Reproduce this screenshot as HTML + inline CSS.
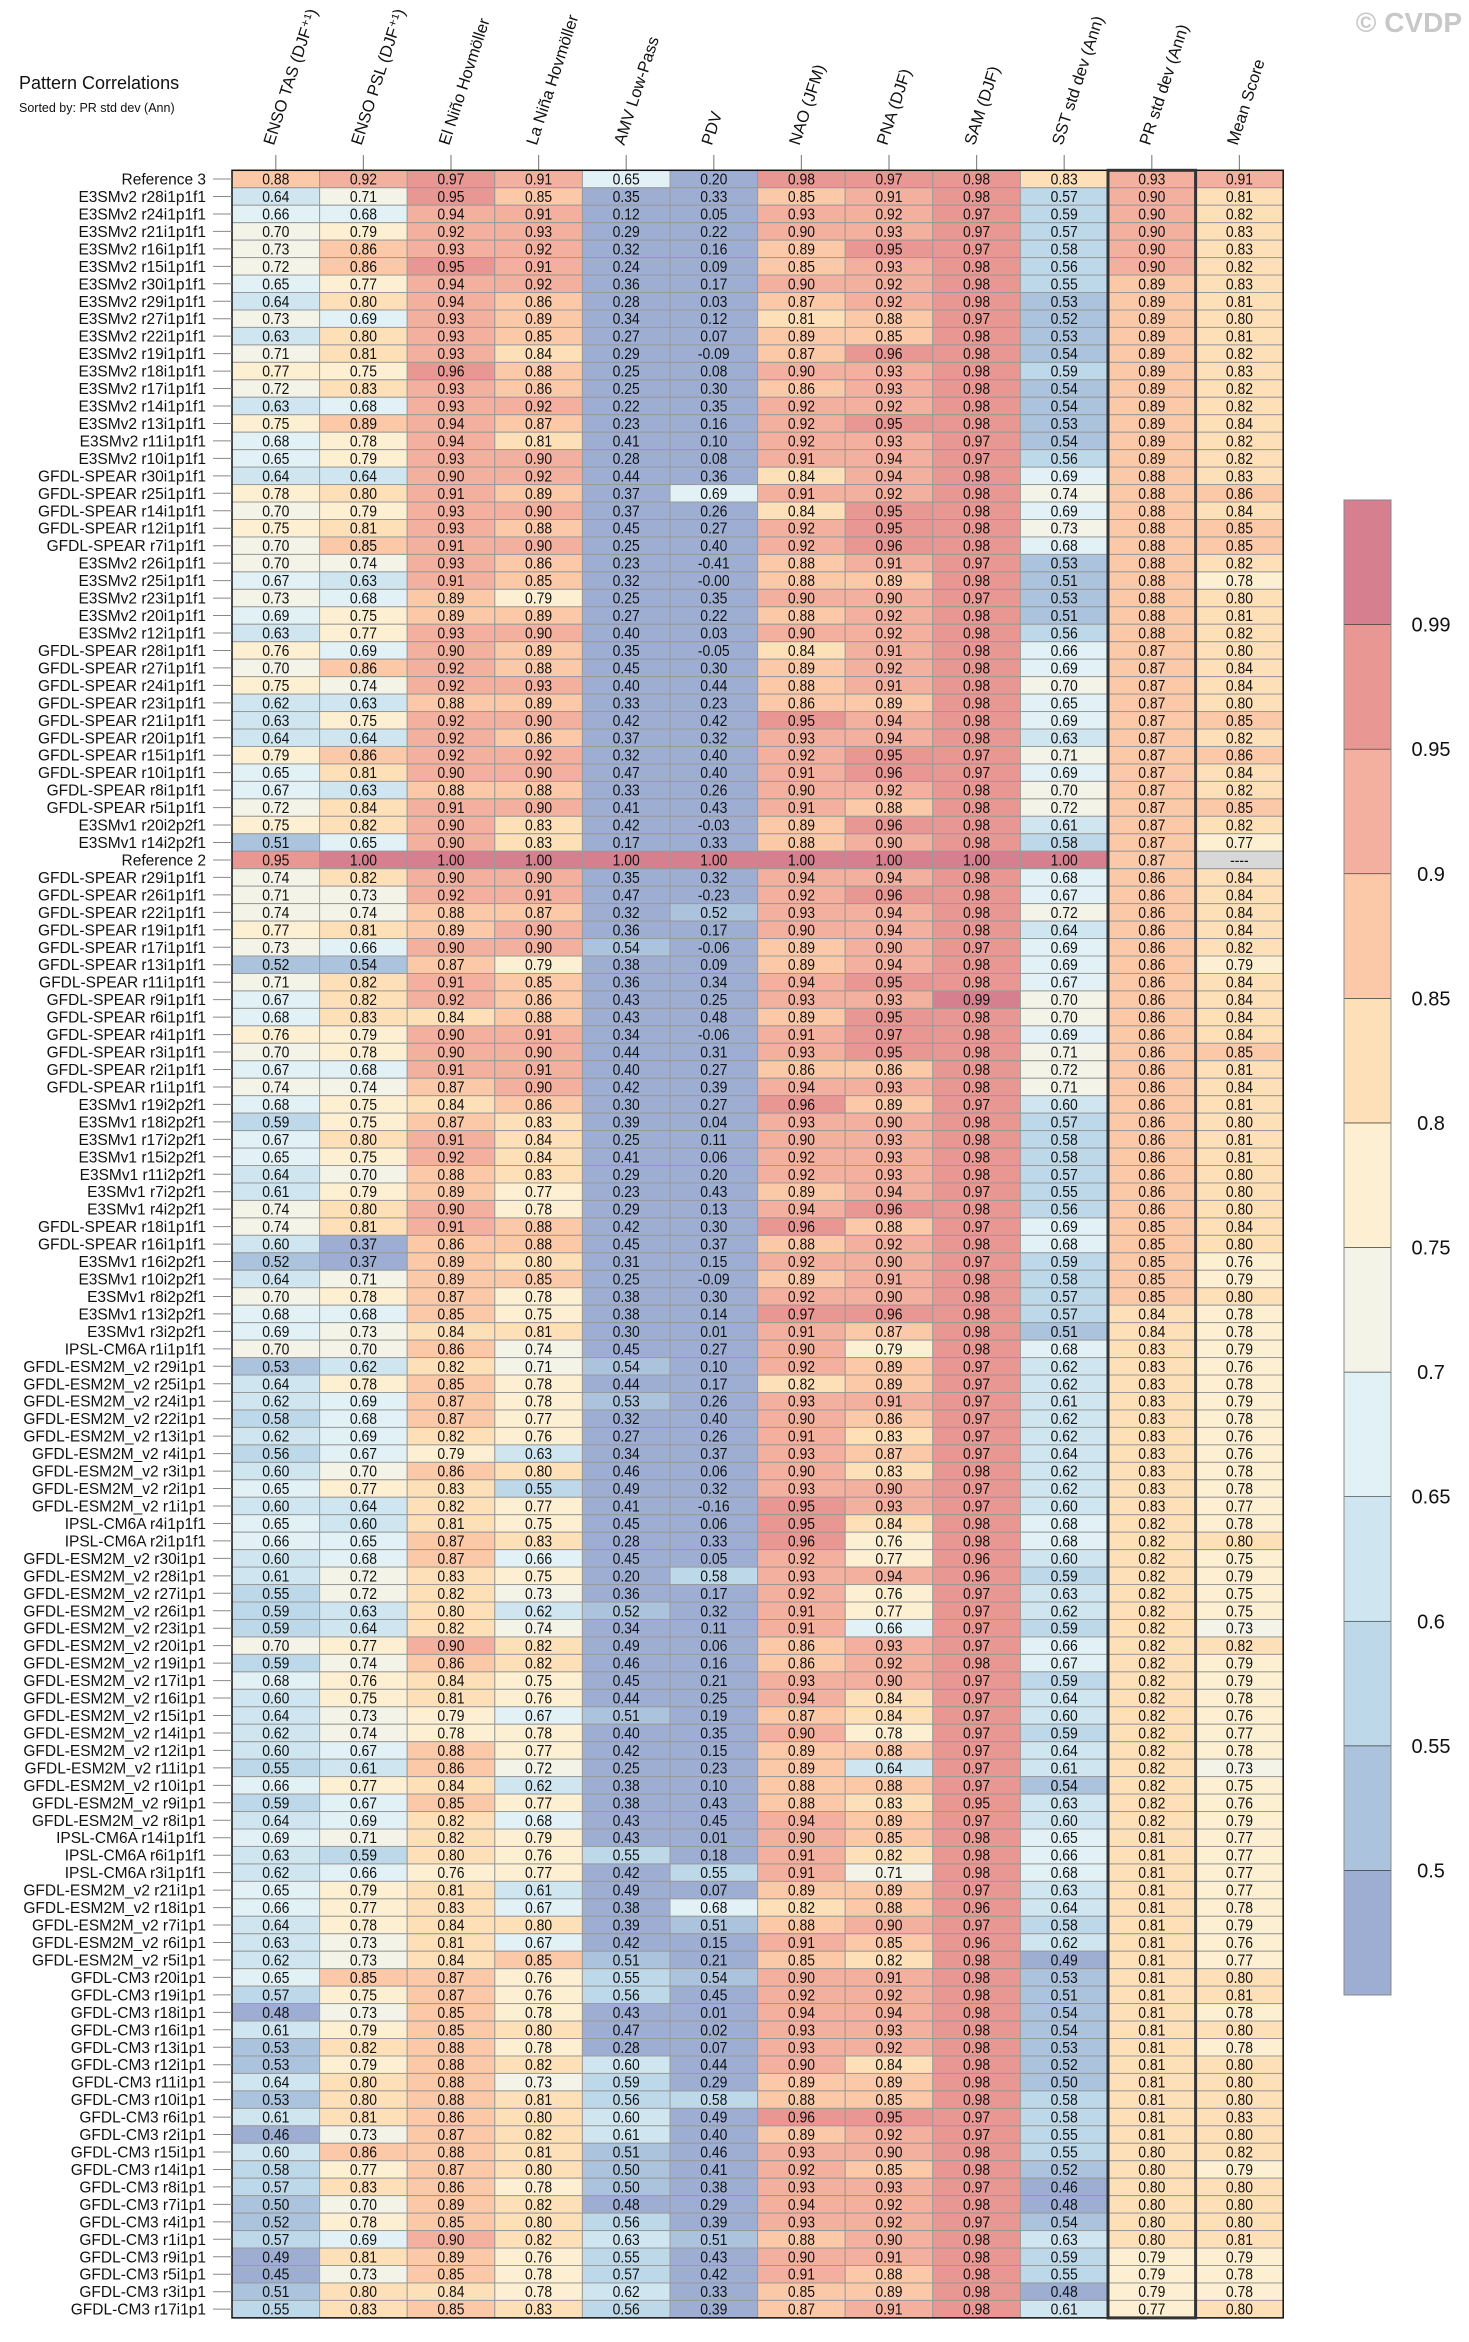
<!DOCTYPE html>
<html><head><meta charset="utf-8">
<style>
html,body{margin:0;padding:0;background:#fff;}
svg{display:block;font-family:"Liberation Sans",Arial,sans-serif;}
</style></head>
<body>
<svg id="chart" width="1469" height="2342" viewBox="0 0 1469 2342" xmlns="http://www.w3.org/2000/svg">
<text x="19" y="89" font-size="18" fill="#111">Pattern Correlations</text>
<text x="19" y="112" font-size="12.5" fill="#111">Sorted by: PR std dev (Ann)</text>
<text x="1462" y="32" font-size="28" font-weight="bold" fill="#c8c8c8" text-anchor="end">© CVDP</text>
<g id="hdr"></g><g id="cells"></g><g id="lbls"></g><g id="cbar"></g>
</svg>
<script>
const columns=["ENSO TAS (DJF⁺¹)","ENSO PSL (DJF⁺¹)","El Niño Hovmöller","La Niña Hovmöller","AMV Low-Pass","PDV","NAO (JFM)","PNA (DJF)","SAM (DJF)","SST std dev (Ann)","PR std dev (Ann)","Mean Score"];
const rowNames=["Reference 3","E3SMv2 r28i1p1f1","E3SMv2 r24i1p1f1","E3SMv2 r21i1p1f1","E3SMv2 r16i1p1f1","E3SMv2 r15i1p1f1","E3SMv2 r30i1p1f1","E3SMv2 r29i1p1f1","E3SMv2 r27i1p1f1","E3SMv2 r22i1p1f1","E3SMv2 r19i1p1f1","E3SMv2 r18i1p1f1","E3SMv2 r17i1p1f1","E3SMv2 r14i1p1f1","E3SMv2 r13i1p1f1","E3SMv2 r11i1p1f1","E3SMv2 r10i1p1f1","GFDL-SPEAR r30i1p1f1","GFDL-SPEAR r25i1p1f1","GFDL-SPEAR r14i1p1f1","GFDL-SPEAR r12i1p1f1","GFDL-SPEAR r7i1p1f1","E3SMv2 r26i1p1f1","E3SMv2 r25i1p1f1","E3SMv2 r23i1p1f1","E3SMv2 r20i1p1f1","E3SMv2 r12i1p1f1","GFDL-SPEAR r28i1p1f1","GFDL-SPEAR r27i1p1f1","GFDL-SPEAR r24i1p1f1","GFDL-SPEAR r23i1p1f1","GFDL-SPEAR r21i1p1f1","GFDL-SPEAR r20i1p1f1","GFDL-SPEAR r15i1p1f1","GFDL-SPEAR r10i1p1f1","GFDL-SPEAR r8i1p1f1","GFDL-SPEAR r5i1p1f1","E3SMv1 r20i2p2f1","E3SMv1 r14i2p2f1","Reference 2","GFDL-SPEAR r29i1p1f1","GFDL-SPEAR r26i1p1f1","GFDL-SPEAR r22i1p1f1","GFDL-SPEAR r19i1p1f1","GFDL-SPEAR r17i1p1f1","GFDL-SPEAR r13i1p1f1","GFDL-SPEAR r11i1p1f1","GFDL-SPEAR r9i1p1f1","GFDL-SPEAR r6i1p1f1","GFDL-SPEAR r4i1p1f1","GFDL-SPEAR r3i1p1f1","GFDL-SPEAR r2i1p1f1","GFDL-SPEAR r1i1p1f1","E3SMv1 r19i2p2f1","E3SMv1 r18i2p2f1","E3SMv1 r17i2p2f1","E3SMv1 r15i2p2f1","E3SMv1 r11i2p2f1","E3SMv1 r7i2p2f1","E3SMv1 r4i2p2f1","GFDL-SPEAR r18i1p1f1","GFDL-SPEAR r16i1p1f1","E3SMv1 r16i2p2f1","E3SMv1 r10i2p2f1","E3SMv1 r8i2p2f1","E3SMv1 r13i2p2f1","E3SMv1 r3i2p2f1","IPSL-CM6A r1i1p1f1","GFDL-ESM2M_v2 r29i1p1","GFDL-ESM2M_v2 r25i1p1","GFDL-ESM2M_v2 r24i1p1","GFDL-ESM2M_v2 r22i1p1","GFDL-ESM2M_v2 r13i1p1","GFDL-ESM2M_v2 r4i1p1","GFDL-ESM2M_v2 r3i1p1","GFDL-ESM2M_v2 r2i1p1","GFDL-ESM2M_v2 r1i1p1","IPSL-CM6A r4i1p1f1","IPSL-CM6A r2i1p1f1","GFDL-ESM2M_v2 r30i1p1","GFDL-ESM2M_v2 r28i1p1","GFDL-ESM2M_v2 r27i1p1","GFDL-ESM2M_v2 r26i1p1","GFDL-ESM2M_v2 r23i1p1","GFDL-ESM2M_v2 r20i1p1","GFDL-ESM2M_v2 r19i1p1","GFDL-ESM2M_v2 r17i1p1","GFDL-ESM2M_v2 r16i1p1","GFDL-ESM2M_v2 r15i1p1","GFDL-ESM2M_v2 r14i1p1","GFDL-ESM2M_v2 r12i1p1","GFDL-ESM2M_v2 r11i1p1","GFDL-ESM2M_v2 r10i1p1","GFDL-ESM2M_v2 r9i1p1","GFDL-ESM2M_v2 r8i1p1","IPSL-CM6A r14i1p1f1","IPSL-CM6A r6i1p1f1","IPSL-CM6A r3i1p1f1","GFDL-ESM2M_v2 r21i1p1","GFDL-ESM2M_v2 r18i1p1","GFDL-ESM2M_v2 r7i1p1","GFDL-ESM2M_v2 r6i1p1","GFDL-ESM2M_v2 r5i1p1","GFDL-CM3 r20i1p1","GFDL-CM3 r19i1p1","GFDL-CM3 r18i1p1","GFDL-CM3 r16i1p1","GFDL-CM3 r13i1p1","GFDL-CM3 r12i1p1","GFDL-CM3 r11i1p1","GFDL-CM3 r10i1p1","GFDL-CM3 r6i1p1","GFDL-CM3 r2i1p1","GFDL-CM3 r15i1p1","GFDL-CM3 r14i1p1","GFDL-CM3 r8i1p1","GFDL-CM3 r7i1p1","GFDL-CM3 r4i1p1","GFDL-CM3 r1i1p1","GFDL-CM3 r9i1p1","GFDL-CM3 r5i1p1","GFDL-CM3 r3i1p1","GFDL-CM3 r17i1p1"];
const rowValues=[
[.88,.92,.97,.91,.65,.20,.98,.97,.98,.83,.93,.91],
[.64,.71,.95,.85,.35,.33,.85,.91,.98,.57,.90,.81],
[.66,.68,.94,.91,.12,.05,.93,.92,.97,.59,.90,.82],
[.70,.79,.92,.93,.29,.22,.90,.93,.97,.57,.90,.83],
[.73,.86,.93,.92,.32,.16,.89,.95,.97,.58,.90,.83],
[.72,.86,.95,.91,.24,.09,.85,.93,.98,.56,.90,.82],
[.65,.77,.94,.92,.36,.17,.90,.92,.98,.55,.89,.83],
[.64,.80,.94,.86,.28,.03,.87,.92,.98,.53,.89,.81],
[.73,.69,.93,.89,.34,.12,.81,.88,.97,.52,.89,.80],
[.63,.80,.93,.85,.27,.07,.89,.85,.98,.53,.89,.81],
[.71,.81,.93,.84,.29,-.09,.87,.96,.98,.54,.89,.82],
[.77,.75,.96,.88,.25,.08,.90,.93,.98,.59,.89,.83],
[.72,.83,.93,.86,.25,.30,.86,.93,.98,.54,.89,.82],
[.63,.68,.93,.92,.22,.35,.92,.92,.98,.54,.89,.82],
[.75,.89,.94,.87,.23,.16,.92,.95,.98,.53,.89,.84],
[.68,.78,.94,.81,.41,.10,.92,.93,.97,.54,.89,.82],
[.65,.79,.93,.90,.28,.08,.91,.94,.97,.56,.89,.82],
[.64,.64,.90,.92,.44,.36,.84,.94,.98,.69,.88,.83],
[.78,.80,.91,.89,.37,.69,.91,.92,.98,.74,.88,.86],
[.70,.79,.93,.90,.37,.26,.84,.95,.98,.69,.88,.84],
[.75,.81,.93,.88,.45,.27,.92,.95,.98,.73,.88,.85],
[.70,.85,.91,.90,.25,.40,.92,.96,.98,.68,.88,.85],
[.70,.74,.93,.86,.23,-.41,.88,.91,.97,.53,.88,.82],
[.67,.63,.91,.85,.32,-.001,.88,.89,.98,.51,.88,.78],
[.73,.68,.89,.79,.25,.35,.90,.90,.97,.53,.88,.80],
[.69,.75,.89,.89,.27,.22,.88,.92,.98,.51,.88,.81],
[.63,.77,.93,.90,.40,.03,.90,.92,.98,.56,.88,.82],
[.76,.69,.90,.89,.35,-.05,.84,.91,.98,.66,.87,.80],
[.70,.86,.92,.88,.45,.30,.89,.92,.98,.69,.87,.84],
[.75,.74,.92,.93,.40,.44,.88,.91,.98,.70,.87,.84],
[.62,.63,.88,.89,.33,.23,.86,.89,.98,.65,.87,.80],
[.63,.75,.92,.90,.42,.42,.95,.94,.98,.69,.87,.85],
[.64,.64,.92,.86,.37,.32,.93,.94,.98,.63,.87,.82],
[.79,.86,.92,.92,.32,.40,.92,.95,.97,.71,.87,.86],
[.65,.81,.90,.90,.47,.40,.91,.96,.97,.69,.87,.84],
[.67,.63,.88,.88,.33,.26,.90,.92,.98,.70,.87,.82],
[.72,.84,.91,.90,.41,.43,.91,.88,.98,.72,.87,.85],
[.75,.82,.90,.83,.42,-.03,.89,.96,.98,.61,.87,.82],
[.51,.65,.90,.83,.17,.33,.88,.90,.98,.58,.87,.77],
[.95,1.00,1.00,1.00,1.00,1.00,1.00,1.00,1.00,1.00,.87,null],
[.74,.82,.90,.90,.35,.32,.94,.94,.98,.68,.86,.84],
[.71,.73,.92,.91,.47,-.23,.92,.96,.98,.67,.86,.84],
[.74,.74,.88,.87,.32,.52,.93,.94,.98,.72,.86,.84],
[.77,.81,.89,.90,.36,.17,.90,.94,.98,.64,.86,.84],
[.73,.66,.90,.90,.54,-.06,.89,.90,.97,.69,.86,.82],
[.52,.54,.87,.79,.38,.09,.89,.94,.98,.69,.86,.79],
[.71,.82,.91,.85,.36,.34,.94,.95,.98,.67,.86,.84],
[.67,.82,.92,.86,.43,.25,.93,.93,.99,.70,.86,.84],
[.68,.83,.84,.88,.43,.48,.89,.95,.98,.70,.86,.84],
[.76,.79,.90,.91,.34,-.06,.91,.97,.98,.69,.86,.84],
[.70,.78,.90,.90,.44,.31,.93,.95,.98,.71,.86,.85],
[.67,.68,.91,.91,.40,.27,.86,.86,.98,.72,.86,.81],
[.74,.74,.87,.90,.42,.39,.94,.93,.98,.71,.86,.84],
[.68,.75,.84,.86,.30,.27,.96,.89,.97,.60,.86,.81],
[.59,.75,.87,.83,.39,.04,.93,.90,.98,.57,.86,.80],
[.67,.80,.91,.84,.25,.11,.90,.93,.98,.58,.86,.81],
[.65,.75,.92,.84,.41,.06,.92,.93,.98,.58,.86,.81],
[.64,.70,.88,.83,.29,.20,.92,.93,.98,.57,.86,.80],
[.61,.79,.89,.77,.23,.43,.89,.94,.97,.55,.86,.80],
[.74,.80,.90,.78,.29,.13,.94,.96,.98,.56,.86,.80],
[.74,.81,.91,.88,.42,.30,.96,.88,.97,.69,.85,.84],
[.60,.37,.86,.88,.45,.37,.88,.92,.98,.68,.85,.80],
[.52,.37,.89,.80,.31,.15,.92,.90,.97,.59,.85,.76],
[.64,.71,.89,.85,.25,-.09,.89,.91,.98,.58,.85,.79],
[.70,.78,.87,.78,.38,.30,.92,.90,.98,.57,.85,.80],
[.68,.68,.85,.75,.38,.14,.97,.96,.98,.57,.84,.78],
[.69,.73,.84,.81,.30,.01,.91,.87,.98,.51,.84,.78],
[.70,.70,.86,.74,.45,.27,.90,.79,.98,.68,.83,.79],
[.53,.62,.82,.71,.54,.10,.92,.89,.97,.62,.83,.76],
[.64,.78,.85,.78,.44,.17,.82,.89,.97,.62,.83,.78],
[.62,.69,.87,.78,.53,.26,.93,.91,.97,.61,.83,.79],
[.58,.68,.87,.77,.32,.40,.90,.86,.97,.62,.83,.78],
[.62,.69,.82,.76,.27,.26,.91,.83,.97,.62,.83,.76],
[.56,.67,.79,.63,.34,.37,.93,.87,.97,.64,.83,.76],
[.60,.70,.86,.80,.46,.06,.90,.83,.98,.62,.83,.78],
[.65,.77,.83,.55,.49,.32,.93,.90,.97,.62,.83,.78],
[.60,.64,.82,.77,.41,-.16,.95,.93,.97,.60,.83,.77],
[.65,.60,.81,.75,.45,.06,.95,.84,.98,.68,.82,.78],
[.66,.65,.87,.83,.28,.33,.96,.76,.98,.68,.82,.80],
[.60,.68,.87,.66,.45,.05,.92,.77,.96,.60,.82,.75],
[.61,.72,.83,.75,.20,.58,.93,.94,.96,.59,.82,.79],
[.55,.72,.82,.73,.36,.17,.92,.76,.97,.63,.82,.75],
[.59,.63,.80,.62,.52,.32,.91,.77,.97,.62,.82,.75],
[.59,.64,.82,.74,.34,.11,.91,.66,.97,.59,.82,.73],
[.70,.77,.90,.82,.49,.06,.86,.93,.97,.66,.82,.82],
[.59,.74,.86,.82,.46,.16,.86,.92,.98,.67,.82,.79],
[.68,.76,.84,.75,.45,.21,.93,.90,.97,.59,.82,.79],
[.60,.75,.81,.76,.44,.25,.94,.84,.97,.64,.82,.78],
[.64,.73,.79,.67,.51,.19,.87,.84,.97,.60,.82,.76],
[.62,.74,.78,.78,.40,.35,.90,.78,.97,.59,.82,.77],
[.60,.67,.88,.77,.42,.15,.89,.88,.97,.64,.82,.78],
[.55,.61,.86,.72,.25,.23,.89,.64,.97,.61,.82,.73],
[.66,.77,.84,.62,.38,.10,.88,.88,.97,.54,.82,.75],
[.59,.67,.85,.77,.38,.43,.88,.83,.95,.63,.82,.76],
[.64,.69,.82,.68,.43,.45,.94,.89,.97,.60,.82,.79],
[.69,.71,.82,.79,.43,.01,.90,.85,.98,.65,.81,.77],
[.63,.59,.80,.76,.55,.18,.91,.82,.98,.66,.81,.77],
[.62,.66,.76,.77,.42,.55,.91,.71,.98,.68,.81,.77],
[.65,.79,.81,.61,.49,.07,.89,.89,.97,.63,.81,.77],
[.66,.77,.83,.67,.38,.68,.82,.88,.96,.64,.81,.78],
[.64,.78,.84,.80,.39,.51,.88,.90,.97,.58,.81,.79],
[.63,.73,.81,.67,.42,.15,.91,.85,.96,.62,.81,.76],
[.62,.73,.84,.85,.51,.21,.85,.82,.98,.49,.81,.77],
[.65,.85,.87,.76,.55,.54,.90,.91,.98,.53,.81,.80],
[.57,.75,.87,.76,.56,.45,.92,.92,.98,.51,.81,.81],
[.48,.73,.85,.78,.43,.01,.94,.94,.98,.54,.81,.78],
[.61,.79,.85,.80,.47,.02,.93,.93,.98,.54,.81,.80],
[.53,.82,.88,.78,.28,.07,.93,.92,.98,.53,.81,.78],
[.53,.79,.88,.82,.60,.44,.90,.84,.98,.52,.81,.80],
[.64,.80,.88,.73,.59,.29,.89,.89,.98,.50,.81,.80],
[.53,.80,.88,.81,.56,.58,.88,.85,.98,.58,.81,.80],
[.61,.81,.86,.80,.60,.49,.96,.95,.97,.58,.81,.83],
[.46,.73,.87,.82,.61,.40,.89,.92,.97,.55,.81,.80],
[.60,.86,.88,.81,.51,.46,.93,.90,.98,.55,.80,.82],
[.58,.77,.87,.80,.50,.41,.92,.85,.98,.52,.80,.79],
[.57,.83,.86,.78,.50,.38,.93,.93,.97,.46,.80,.80],
[.50,.70,.89,.82,.48,.29,.94,.92,.98,.48,.80,.80],
[.52,.78,.85,.80,.56,.39,.93,.92,.97,.54,.80,.80],
[.57,.69,.90,.82,.63,.51,.88,.90,.98,.63,.80,.81],
[.49,.81,.89,.76,.55,.43,.90,.91,.98,.59,.79,.79],
[.45,.73,.85,.78,.57,.42,.91,.88,.98,.55,.79,.78],
[.51,.80,.84,.78,.62,.33,.85,.89,.98,.48,.79,.78],
[.55,.83,.85,.83,.56,.39,.87,.91,.98,.61,.77,.80]];
const levels=[0.5,0.55,0.6,0.65,0.7,0.75,0.8,0.85,0.9,0.95,0.99];
const levelLabels=["0.5","0.55","0.6","0.65","0.7","0.75","0.8","0.85","0.9","0.95","0.99"];
const palette=["#9eaed3","#abc3dc","#bdd8e9","#cfe6f0","#e2f1f5","#f4f3e8","#fdf0d2","#fde0b8","#fbc9a8","#f4b09e","#e99792","#d6808f"];

const NS="http://www.w3.org/2000/svg";
const X0=232,CW=87.6,Y0=170.3,RH=17.46;
const colX=i=>X0+i*CW;
const rowY=j=>Y0+j*RH;
function colorFor(v){if(v===null)return "#d8d8d8";let k=0;for(let i=0;i<levels.length;i++){if(v>=levels[i]-1e-9)k=i+1;}return palette[k];}
function fmt(v){if(v===null)return "----";if(v<0&&v>-0.005)return "-0.00";return v.toFixed(2);}
function mk(tag,attrs,parent){const e=document.createElementNS(NS,tag);for(const k in attrs)e.setAttribute(k,attrs[k]);parent.appendChild(e);return e;}

const hdr=document.getElementById('hdr');
columns.forEach((c,i)=>{
  const cx=colX(i)+CW/2;
  const t=mk('text',{x:cx-2,y:146,'font-size':16.5,fill:'#111',transform:`rotate(-72 ${cx-2} 146)`},hdr);
  
  
  t.textContent=c;
  const l=mk('line',{x1:cx,y1:155,x2:cx,y2:170,stroke:'#888','stroke-width':1.2},hdr);
  
  
});

const cells=document.getElementById('cells');
const lbls=document.getElementById('lbls');
rowValues.forEach((row,j)=>{
  const y=rowY(j);
  const lt=mk('text',{x:206,y:y+RH/2+5.5,'font-size':15.5,fill:'#111','text-anchor':'end'},lbls);
  
  
  lt.textContent=rowNames[j];
  const tk=mk('line',{x1:213,y1:y+RH/2,x2:232,y2:y+RH/2,stroke:'#888','stroke-width':1},lbls);
  
  
  row.forEach((v,i)=>{
    const x=colX(i);
    const r=mk('rect',{x:x,y:y,width:CW,height:RH,fill:colorFor(v),stroke:'#9a9a9a','stroke-width':1},cells);
    
    
    const cx=x+CW/2;
    const t=mk('text',{x:0,y:0,'font-size':15.5,fill:'#111','text-anchor':'middle',transform:`translate(${cx} ${y+RH/2+5.5}) scale(0.9 1)`},cells);
    
    
    t.textContent=fmt(v);
  });
});
const H=rowValues.length*RH;
const ob=mk('rect',{x:X0,y:Y0,width:CW*columns.length,height:H,fill:'none',stroke:'#111','stroke-width':1.5},cells);


const pb=mk('rect',{x:colX(10),y:Y0,width:CW,height:H,fill:'none',stroke:'#333','stroke-width':3},cells);



const cb=document.getElementById('cbar');
const CBX=1344,CBW=47,CBT=500,CBB=1995,nb=palette.length,bh=(CBB-CBT)/nb;
palette.forEach((c,k)=>{
  const y=CBB-(k+1)*bh;
  const r=mk('rect',{x:CBX,y:y,width:CBW,height:bh,fill:c,stroke:'#333','stroke-width':0.6},cb);
  
  
});
levels.forEach((lv,k)=>{
  const y=CBB-(k+1)*bh;
  const t=mk('text',{x:1431,y:y+7,'font-size':20,fill:'#111','text-anchor':'middle'},cb);
  
  
  t.textContent=levelLabels[k];
});
const cbo=mk('rect',{x:CBX,y:CBT,width:CBW,height:CBB-CBT,fill:'none',stroke:'#888','stroke-width':1},cb);


</script>
</body></html>
